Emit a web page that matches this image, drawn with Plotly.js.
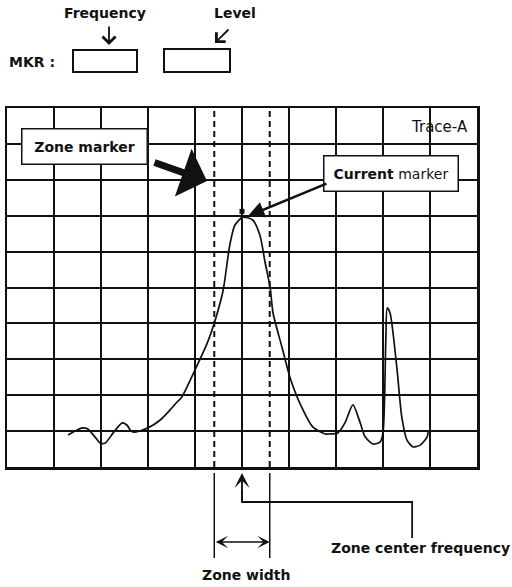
<!DOCTYPE html>
<html>
<head>
<meta charset="utf-8">
<script src="https://cdn.plot.ly/plotly-3.0.1.min.js"></script>
<style>html,body{margin:0;padding:0;background:#fff;}#chart{width:512px;height:587px;}</style>
</head>
<body>
<div id="chart"></div>
<script>
// ---- data (screen divisions, 10 x 10 grid) ----
const traceX = [1.30, 1.45, 1.60, 1.72, 1.87, 1.98, 2.09, 2.26, 2.45, 2.55, 2.64, 2.72, 3.00, 3.26, 3.47, 3.62, 3.72, 4.02, 4.26, 4.45, 4.60, 4.74, 4.85, 5.02, 5.23, 5.38, 5.49, 5.60, 5.66, 5.85, 6.02, 6.23, 6.51, 6.77, 6.87, 7.04, 7.19, 7.36, 7.51, 7.62, 7.79, 7.94, 8.00, 8.06, 8.09, 8.15, 8.30, 8.40, 8.51, 8.64, 8.79, 8.94, 8.96];
const traceY = [0.89, 1.00, 1.09, 1.06, 0.84, 0.67, 0.67, 0.95, 1.23, 1.17, 1.00, 0.97, 1.09, 1.31, 1.59, 1.81, 1.95, 2.76, 3.45, 4.18, 4.93, 6.18, 6.74, 6.96, 6.88, 6.46, 5.71, 4.99, 4.29, 3.34, 2.50, 1.78, 1.11, 0.92, 0.92, 0.95, 1.23, 1.73, 1.25, 0.84, 0.64, 0.70, 0.95, 3.54, 4.43, 4.29, 2.70, 1.39, 0.75, 0.56, 0.61, 0.84, 0.97];
const zoneCenter = 5.0;
const zoneWidth = 1.18;
const markerX = [5.0];
const markerY = [7.12];
const gridTicks = [0, 1, 2, 3, 4, 5, 6, 7, 8, 9, 10];

// ---- pixel -> paper helpers for layout decoration ----
const PX = X => (X - 7) / 470;
const PY = Y => (467 - Y) / 359;

const ink = '#111';
const FONT = 'DejaVu Sans, sans-serif';
const zoneL = zoneCenter - zoneWidth / 2;
const zoneR = zoneCenter + zoneWidth / 2;
const labelX = 8.62;

const traces = [
  {x: traceX, y: traceY, mode: 'lines', line: {color: ink, width: 1.7, shape: 'spline', smoothing: 0.7}, hoverinfo: 'skip'},
  {x: markerX, y: markerY, mode: 'markers', marker: {symbol: 'square', size: 5, color: ink}, hoverinfo: 'skip'}
];

const axisBase = {
  range: [0, 10], tickmode: 'array', tickvals: gridTicks, showticklabels: false, ticks: '',
  showgrid: true, gridcolor: ink, gridwidth: 2, zeroline: false,
  showline: true, linecolor: ink, linewidth: 2.5, mirror: true, fixedrange: true
};

const txt = (X, Y, text, size, extra) => Object.assign({
  xref: 'paper', yref: 'paper', x: PX(X), y: PY(Y), text: text, showarrow: false,
  xanchor: 'center', yanchor: 'middle',
  font: {family: FONT, size: size, color: ink}
}, extra || {});

const arrow = (X, Y, ax, ay, extra) => Object.assign({
  xref: 'paper', yref: 'paper', x: PX(X), y: PY(Y), ax: ax, ay: ay, text: '',
  showarrow: true, arrowcolor: ink, standoff: 0
}, extra);

const layout = {
  width: 512, height: 587,
  margin: {l: 7, r: 35, t: 108, b: 120, pad: 0},
  paper_bgcolor: '#fff', plot_bgcolor: '#fff',
  showlegend: false,
  xaxis: Object.assign({}, axisBase),
  yaxis: Object.assign({}, axisBase),
  shapes: [
    {type: 'rect', xref: 'paper', yref: 'paper', x0: PX(73), x1: PX(137), y0: PY(50), y1: PY(72), line: {color: ink, width: 2}},
    {type: 'rect', xref: 'paper', yref: 'paper', x0: PX(164), x1: PX(230), y0: PY(49), y1: PY(72), line: {color: ink, width: 2}},
    {type: 'line', xref: 'x', yref: 'paper', x0: zoneL, x1: zoneL, y0: 0, y1: 1, line: {color: ink, width: 2, dash: '6px,4px'}},
    {type: 'line', xref: 'x', yref: 'paper', x0: zoneR, x1: zoneR, y0: 0, y1: 1, line: {color: ink, width: 2, dash: '6px,4px'}},
    {type: 'line', xref: 'x', yref: 'paper', x0: zoneL, x1: zoneL, y0: PY(473), y1: PY(558), line: {color: ink, width: 1.5}},
    {type: 'line', xref: 'x', yref: 'paper', x0: zoneR, x1: zoneR, y0: PY(473), y1: PY(558), line: {color: ink, width: 1.5}},
    {type: 'path', xref: 'x', yref: 'paper',
     path: 'M ' + labelX + ',' + PY(538) + ' L ' + labelX + ',' + PY(502) + ' L ' + zoneCenter + ',' + PY(502) + ' L ' + zoneCenter + ',' + PY(490),
     line: {color: ink, width: 1.8}}
  ],
  annotations: [
    txt(105, 13, '<b>Frequency</b>', 14),
    txt(235, 13, '<b>Level</b>', 14),
    txt(32, 62, '<b>MKR :</b>', 14),
    arrow(109, 45, 0, -20, {arrowhead: 4, arrowwidth: 1.8, arrowsize: 1.4}),
    arrow(215, 43, 15, -15, {arrowhead: 4, arrowwidth: 1.8, arrowsize: 1.4}),
    txt(470, 127, 'Trace-A', 15, {xanchor: 'right'}),
    txt(84.5, 146.5, '<b>Zone marker</b>', 14, {bgcolor: '#fff', bordercolor: ink, borderwidth: 1.5, borderpad: 0, width: 124, height: 34}),
    arrow(207, 181, -54, -19, {arrowhead: 1, arrowwidth: 7, arrowsize: 1.2}),
    txt(391, 173.5, '<b>Current</b> marker', 14, {bgcolor: '#fff', bordercolor: ink, borderwidth: 1.5, borderpad: 0, width: 133, height: 34}),
    arrow(248, 216, 80, -33, {arrowhead: 2, arrowwidth: 2.5, arrowsize: 1.3}),
    {xref: 'x', yref: 'paper', x: zoneR, y: PY(542), axref: 'x', ax: zoneL, ay: 0, text: '',
     showarrow: true, arrowside: 'end+start', arrowhead: 3, startarrowhead: 3, arrowwidth: 1.6, arrowsize: 1.3, startarrowsize: 1.3, arrowcolor: ink, standoff: 0, startstandoff: 0},
    {xref: 'x', yref: 'paper', x: zoneCenter, y: PY(473), ax: 0, ay: 29, text: '',
     showarrow: true, arrowhead: 3, arrowwidth: 1.8, arrowsize: 1.4, arrowcolor: ink, standoff: 0},
    txt(246, 575, '<b>Zone width</b>', 14),
    txt(420, 548, '<b>Zone center frequency</b>', 14)
  ]
};

Plotly.newPlot('chart', traces, layout, {staticPlot: true, displayModeBar: false});
</script>
</body>
</html>
